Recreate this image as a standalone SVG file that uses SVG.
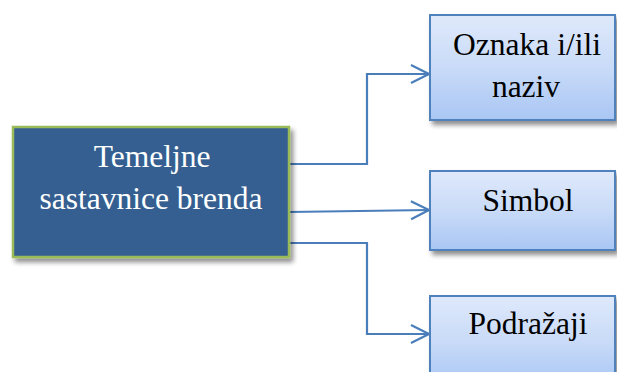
<svg xmlns="http://www.w3.org/2000/svg" width="617" height="372" viewBox="0 0 617 372">
<defs>
<linearGradient id="boxg" x1="0" y1="0" x2="0" y2="1">
<stop offset="0" stop-color="#dfe9fb"/>
<stop offset="0.5" stop-color="#c9dbf8"/>
<stop offset="1" stop-color="#a9c6f4"/>
</linearGradient>
<filter id="sh" x="-10%" y="-10%" width="125%" height="130%">
<feGaussianBlur in="SourceAlpha" stdDeviation="2.5"/>
<feOffset dx="3" dy="4" result="b"/>
<feComponentTransfer><feFuncA type="linear" slope="0.45"/></feComponentTransfer>
<feMerge><feMergeNode/><feMergeNode in="SourceGraphic"/></feMerge>
</filter>
<marker id="arr" markerWidth="22" markerHeight="22" refX="19" refY="10" orient="auto" markerUnits="userSpaceOnUse">
<path d="M1,1 L19,10 L1,19" fill="none" stroke="#4a7ebb" stroke-width="2.2"/>
</marker>
</defs>
<style>
.conn{fill:none;stroke:#4a7ebb;stroke-width:2.2}
.box{fill:url(#boxg);stroke:#4f81bd;stroke-width:2}
.main{fill:#345f91;stroke:#9bbb59;stroke-width:2.5}
</style>
<rect width="617" height="372" fill="#fff"/>
<g id="connectors">
<path class="conn" d="M289,164 H367 V74 H429" marker-end="url(#arr)"/>
<path class="conn" d="M289,212 L429,210" marker-end="url(#arr)"/>
<path class="conn" d="M289,243 H367 V334 H429" marker-end="url(#arr)"/>
</g>
<g font-family="Liberation Serif" font-size="31.5" text-anchor="middle">
<g id="main">
<rect class="main" x="13" y="127" width="276" height="130" filter="url(#sh)"/>
<text x="152" y="167" fill="#fff">Temeljne</text>
<text x="151" y="209" fill="#fff">sastavnice brenda</text>
</g>
<g id="oznaka">
<rect class="box" x="430" y="15" width="185" height="105" filter="url(#sh)"/>
<text x="527" y="55" fill="#000">Oznaka i/ili</text>
<text x="526" y="97" fill="#000">naziv</text>
</g>
<g id="simbol">
<rect class="box" x="430" y="171" width="185" height="79" filter="url(#sh)"/>
<text x="528" y="211" fill="#000">Simbol</text>
</g>
<g id="podrazaji">
<rect class="box" x="430" y="296" width="185" height="90" filter="url(#sh)"/>
<text x="528" y="334" fill="#000">Podražaji</text>
</g>
</g>
</svg>
